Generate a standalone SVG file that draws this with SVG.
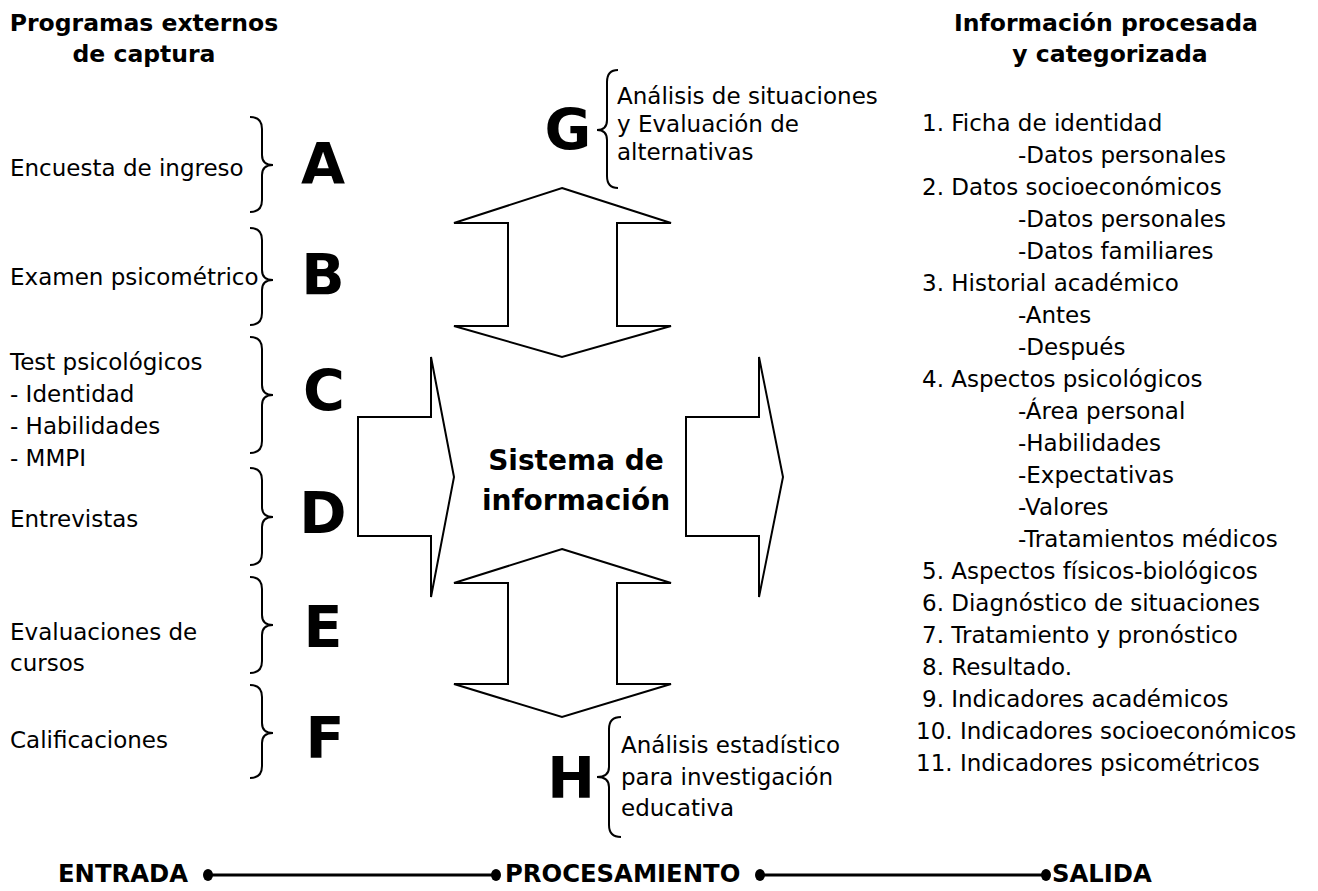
<svg xmlns="http://www.w3.org/2000/svg" width="1318" height="891" viewBox="0 0 1318 891">
<style>
.t{font-family:"DejaVu Sans","Liberation Sans",sans-serif;font-size:23px;fill:#000}
.b{font-family:"DejaVu Sans","Liberation Sans",sans-serif;font-size:23.5px;font-weight:bold;fill:#000}
.big{font-family:"DejaVu Sans","Liberation Sans",sans-serif;font-size:57px;font-weight:bold;fill:#000;text-anchor:middle}
.c{text-anchor:middle}
.ft{font-size:24.3px}
.br{fill:none;stroke:#000;stroke-width:2}
.ar{fill:#fff;stroke:#000;stroke-width:2;stroke-linejoin:miter}
.tl{stroke:#000;stroke-width:3}
</style>
<defs>
<marker id="dot" viewBox="0 0 12 14" refX="6" refY="7" markerWidth="12" markerHeight="14" markerUnits="userSpaceOnUse" orient="auto"><ellipse cx="6" cy="7" rx="5" ry="6" fill="#000"/></marker>
</defs>
<rect width="1318" height="891" fill="#fff"/>

<g id="title-left">
<text class="b c" x="144" y="31">Programas externos</text>
<text class="b c" x="144" y="62">de captura</text>
</g>
<g id="title-right">
<text class="b c" x="1106" y="31">Información procesada</text>
<text class="b c" x="1110" y="62">y categorizada</text>
</g>

<g id="node-A">
<text class="t" x="10" y="176">Encuesta de ingreso</text>
<path class="br" d="M250,117 Q262,117 262,129 L262,155 Q262,165 273,165 Q262,165 262,175 L262,200 Q262,212 250,212"/>
<text class="big" x="323" y="184">A</text>
</g>
<g id="node-B">
<text class="t" x="10" y="285">Examen psicométrico</text>
<path class="br" d="M250,228 Q262,228 262,240 L262,270 Q262,280 273,280 Q262,280 262,290 L262,313 Q262,325 250,325"/>
<text class="big" x="323" y="295">B</text>
</g>
<g id="node-C">
<text class="t" x="10" y="370">Test psicológicos</text>
<text class="t" x="10" y="402">- Identidad</text>
<text class="t" x="10" y="434">- Habilidades</text>
<text class="t" x="10" y="466">- MMPI</text>
<path class="br" d="M250,337 Q262,337 262,349 L262,385 Q262,395 273,395 Q262,395 262,405 L262,441 Q262,453 250,453"/>
<text class="big" x="324" y="411">C</text>
</g>
<g id="node-D">
<text class="t" x="10" y="527">Entrevistas</text>
<path class="br" d="M250,468 Q262,468 262,480 L262,507 Q262,517 273,517 Q262,517 262,527 L262,553 Q262,565 250,565"/>
<text class="big" x="323" y="533">D</text>
</g>
<g id="node-E">
<text class="t" x="10" y="640">Evaluaciones de</text>
<text class="t" x="10" y="671">cursos</text>
<path class="br" d="M250,577 Q262,577 262,589 L262,615 Q262,625 273,625 Q262,625 262,635 L262,661 Q262,673 250,673"/>
<text class="big" x="323" y="647">E</text>
</g>
<g id="node-F">
<text class="t" x="10" y="748">Calificaciones</text>
<path class="br" d="M250,685 Q262,685 262,697 L262,723 Q262,733 273,733 Q262,733 262,743 L262,766 Q262,778 250,778"/>
<text class="big" x="325" y="758">F</text>
</g>

<g id="node-G">
<text class="big" x="568" y="150">G</text>
<path class="br" d="M618,70 Q607,70 607,82 L607,120 Q607,130 597,130 Q607,130 607,140 L607,176 Q607,188 618,188"/>
<text class="t" x="617" y="104">Análisis de situaciones</text>
<text class="t" x="617" y="132">y Evaluación de</text>
<text class="t" x="617" y="160">alternativas</text>
</g>

<g id="node-H">
<text class="big" x="571" y="798">H</text>
<path class="br" d="M621,717 Q609,717 609,729 L609,767 Q609,777 597,777 Q609,777 609,787 L609,825 Q609,837 621,837"/>
<text class="t" x="621" y="753">Análisis estadístico</text>
<text class="t" x="621" y="785">para investigación</text>
<text class="t" x="621" y="816">educativa</text>
</g>

<g id="arrow-top">
<polygon class="ar" points="562,188 671,223 617,223 617,326 671,326 562,357 454,326 508,326 508,223 454,223"/>
</g>
<g id="arrow-bottom">
<polygon class="ar" points="562,549 671,583 617,583 617,684 671,684 562,717 454,684 508,684 508,583 454,583"/>
</g>
<g id="arrow-left">
<polygon class="ar" points="358,417 431,417 431,357 454,477 431,597 431,536 358,536"/>
</g>
<g id="arrow-right">
<polygon class="ar" points="686,417 759,417 759,357 783,477 759,597 759,536 686,536"/>
</g>

<g id="node-sistema">
<text class="b c" style="font-size:28px" x="576" y="470">Sistema de</text>
<text class="b c" style="font-size:28px" x="576" y="510">información</text>
</g>

<g id="node-salida-list">
<text class="t" x="922" y="131">1. Ficha de identidad</text>
<text class="t" x="1018" y="163">-Datos personales</text>
<text class="t" x="922" y="195">2. Datos socioeconómicos</text>
<text class="t" x="1018" y="227">-Datos personales</text>
<text class="t" x="1018" y="259">-Datos familiares</text>
<text class="t" x="922" y="291">3. Historial académico</text>
<text class="t" x="1018" y="323">-Antes</text>
<text class="t" x="1018" y="355">-Después</text>
<text class="t" x="922" y="387">4. Aspectos psicológicos</text>
<text class="t" x="1018" y="419">-Área personal</text>
<text class="t" x="1018" y="451">-Habilidades</text>
<text class="t" x="1018" y="483">-Expectativas</text>
<text class="t" x="1018" y="515">-Valores</text>
<text class="t" x="1018" y="547">-Tratamientos médicos</text>
<text class="t" x="922" y="579">5. Aspectos físicos-biológicos</text>
<text class="t" x="922" y="611">6. Diagnóstico de situaciones</text>
<text class="t" x="922" y="643">7. Tratamiento y pronóstico</text>
<text class="t" x="922" y="675">8. Resultado.</text>
<text class="t" x="922" y="707">9. Indicadores académicos</text>
<text class="t" x="916" y="739">10. Indicadores socioeconómicos</text>
<text class="t" x="916" y="771">11. Indicadores psicométricos</text>
</g>

<g id="node-entrada"><text class="b ft" x="58" y="882">ENTRADA</text></g>
<g id="node-procesamiento"><text class="b ft" x="505" y="882">PROCESAMIENTO</text></g>
<g id="node-salida"><text class="b ft" x="1052" y="882">SALIDA</text></g>

<g id="connectors">
<line class="tl" x1="208" y1="875" x2="496" y2="875" marker-start="url(#dot)" marker-end="url(#dot)"/>
<line class="tl" x1="760" y1="875" x2="1046" y2="875" marker-start="url(#dot)" marker-end="url(#dot)"/>
</g>
</svg>
